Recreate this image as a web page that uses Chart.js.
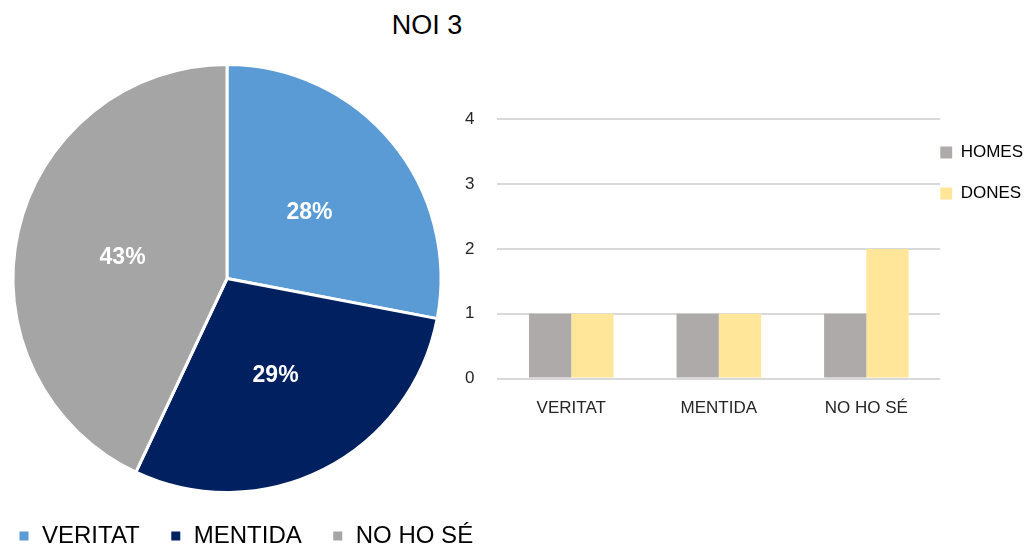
<!DOCTYPE html>
<html>
<head>
<meta charset="utf-8">
<script src="https://cdn.jsdelivr.net/npm/chart.js@4/dist/chart.umd.min.js"></script>
<style>
  body { margin: 0; background: #fff; width: 1029px; height: 551px; position: relative; overflow: hidden; font-family: "Liberation Sans", Arial, sans-serif; }
  #title { position: absolute; left: 327px; width: 200px; top: 10px; text-align: center; font-size: 27px; color: #000; }
  #pieBox { position: absolute; left: -12px; top: 55px; width: 560px; height: 503px; }
  #barBox { position: absolute; left: 442px; top: 86px; width: 597px; height: 345px; }
</style>
</head>
<body>
<div id="title">NOI 3</div>
<div id="pieBox"><canvas id="pieChart"></canvas></div>
<div id="barBox"><canvas id="barChart"></canvas></div>
<script>
// pie data (percentages)
var pieLabels = ['VERITAT', 'MENTIDA', 'NO HO SÉ'];
var pieValues = [28, 29, 43];
var pieColors = ['#5B9BD5', '#002060', '#A5A5A5'];

// bar data
var barCategories = ['VERITAT', 'MENTIDA', 'NO HO SÉ'];
var homes = [1, 1, 1];
var dones = [1, 1, 2];

Chart.defaults.font.family = '"Liberation Sans", Arial, sans-serif';
Chart.defaults.color = '#262626';

// draws the % labels in the middle of each slice
var sliceLabels = {
    id: 'sliceLabels',
    afterDatasetsDraw: function(chart) {
        var c = chart.ctx;
        var meta = chart.getDatasetMeta(0);
        c.save();
        c.fillStyle = '#fff';
        c.font = 'bold 23px "Liberation Sans", Arial, sans-serif';
        c.textAlign = 'center';
        c.textBaseline = 'middle';
        meta.data.forEach(function(arc, i) {
            var p = arc.getCenterPoint();
            c.fillText(pieValues[i] + '%', p.x, p.y + 2);
        });
        c.restore();
    }
};

new Chart(document.getElementById('pieChart').getContext('2d'), {
    type: 'pie',
    data: {
        labels: pieLabels,
        datasets: [{
            data: pieValues,
            backgroundColor: pieColors,
            borderColor: '#fff',
            borderWidth: 3
        }]
    },
    options: {
        responsive: true,
        maintainAspectRatio: false,
        animation: false,
        layout: { padding: { top: 8, left: 0, right: 0, bottom: 0 } },
        plugins: {
            // empty title on the right just keeps the pie left of the legend's centre
            title: {
                display: true,
                position: 'right',
                text: '',
                font: { size: 10, lineHeight: 1 },
                padding: 36
            },
            legend: {
                position: 'bottom',
                align: 'start',
                labels: {
                    boxWidth: 12,
                    boxHeight: 12,
                    padding: 30,
                    color: '#000',
                    font: { size: 24 }
                }
            },
            tooltip: { enabled: false }
        }
    },
    plugins: [sliceLabels]
});

new Chart(document.getElementById('barChart').getContext('2d'), {
    type: 'bar',
    data: {
        labels: barCategories,
        datasets: [{
            label: 'HOMES',
            data: homes,
            backgroundColor: '#AEAAAA'
        }, {
            label: 'DONES',
            data: dones,
            backgroundColor: '#FFE699'
        }]
    },
    options: {
        responsive: true,
        maintainAspectRatio: false,
        animation: false,
        categoryPercentage: 0.573,
        barPercentage: 1,
        layout: { padding: { top: 0, left: 0, right: 6, bottom: 0 } },
        scales: {
            x: {
                grid: { display: false },
                border: { display: false },
                ticks: { color: '#262626', font: { size: 17 }, padding: 12 }
            },
            y: {
                min: 0,
                max: 4,
                ticks: { stepSize: 1, color: '#262626', font: { size: 17 }, padding: 23 },
                grid: { color: '#D9D9D9', lineWidth: 2, drawTicks: false },
                border: { display: false }
            }
        },
        plugins: {
            legend: {
                position: 'right',
                align: 'start',
                title: {
                    display: true,
                    text: '',
                    font: { size: 10, lineHeight: 1 },
                    padding: { top: 32, bottom: 16 }
                },
                labels: {
                    boxWidth: 12,
                    boxHeight: 12,
                    padding: 0,
                    color: '#000',
                    font: { size: 17, lineHeight: 41 / 17 },
                    generateLabels: function(chart) {
                        var items = Chart.defaults.plugins.legend.labels.generateLabels(chart);
                        items.forEach(function(it) { it.text = [it.text]; });
                        return items;
                    }
                }
            },
            tooltip: { enabled: false }
        }
    }
});
</script>
</body>
</html>
